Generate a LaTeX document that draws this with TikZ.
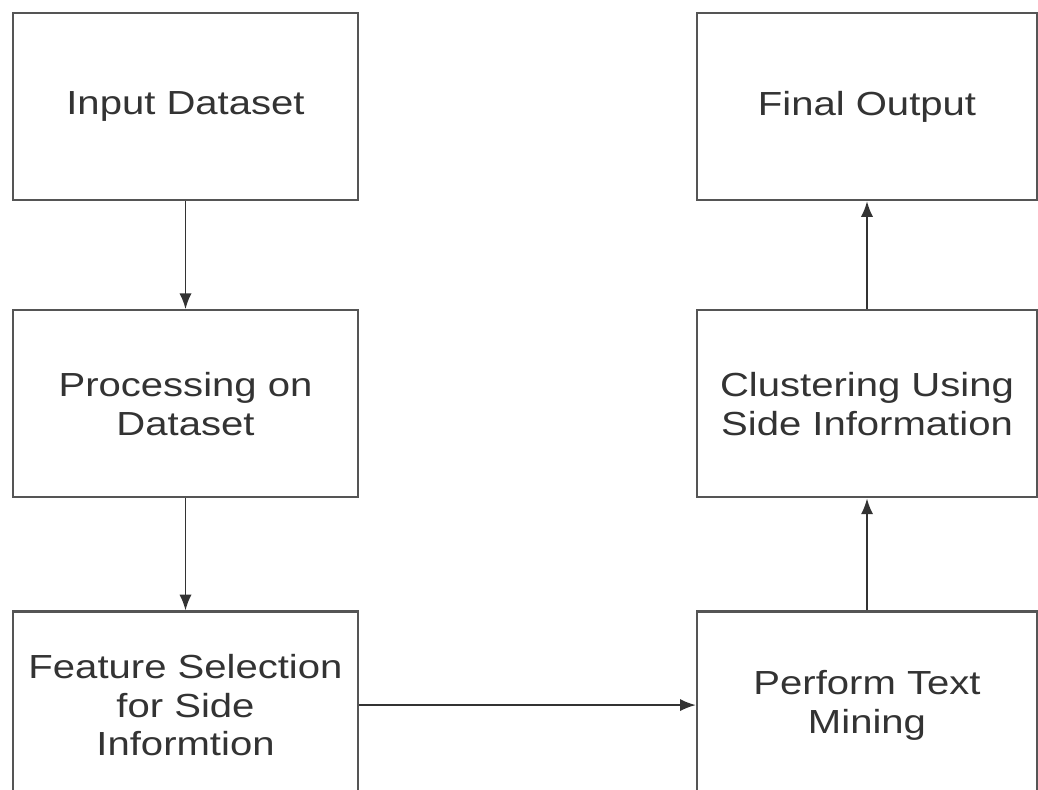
\documentclass[tikz,border=0pt]{standalone}
\usepackage{fontspec}
\setmainfont{Liberation Sans}[FakeStretch=1.2]
\usetikzlibrary{positioning,arrows.meta}
\definecolor{boxline}{HTML}{555555}
\definecolor{boxtext}{HTML}{333333}
\tikzset{
  stagebox/.style={draw=boxline, line width=1.3pt, minimum width=6.9cm, minimum height=3.74cm,
    align=center, text=boxtext, font=\fontsize{19}{22}\selectfont},
  flow/.style={draw=black!80, line width=1.1pt, -{Latex[length=9pt,width=7pt]}}
}
\begin{document}
\begin{tikzpicture}
  \useasboundingbox (0,0) rectangle (20.76,-15.8);
  % Left column
  \node[stagebox] (input) at (3.71,-2.13) {Input Dataset};
  \node[stagebox, below=2.16cm of input] (proc) {Processing on\\Dataset};
  \node[stagebox, below=2.24cm of proc] (feat) {Feature Selection\\for Side\\Informtion};
  % Right column
  \node[stagebox, minimum width=6.8cm] (final) at (17.34,-2.13) {Final Output};
  \node[stagebox, minimum width=6.8cm, below=2.16cm of final] (clust) {Clustering Using\\Side Information};
  \node[stagebox, minimum width=6.8cm, below=2.24cm of clust] (mine) {Perform Text\\Mining};
  % Arrows
  \draw[flow] (input) -- (proc);
  \draw[flow] (proc) -- (feat);
  \draw[flow] (feat) -- (mine);
  \draw[flow] (mine) -- (clust);
  \draw[flow] (clust) -- (final);
\end{tikzpicture}
\end{document}
